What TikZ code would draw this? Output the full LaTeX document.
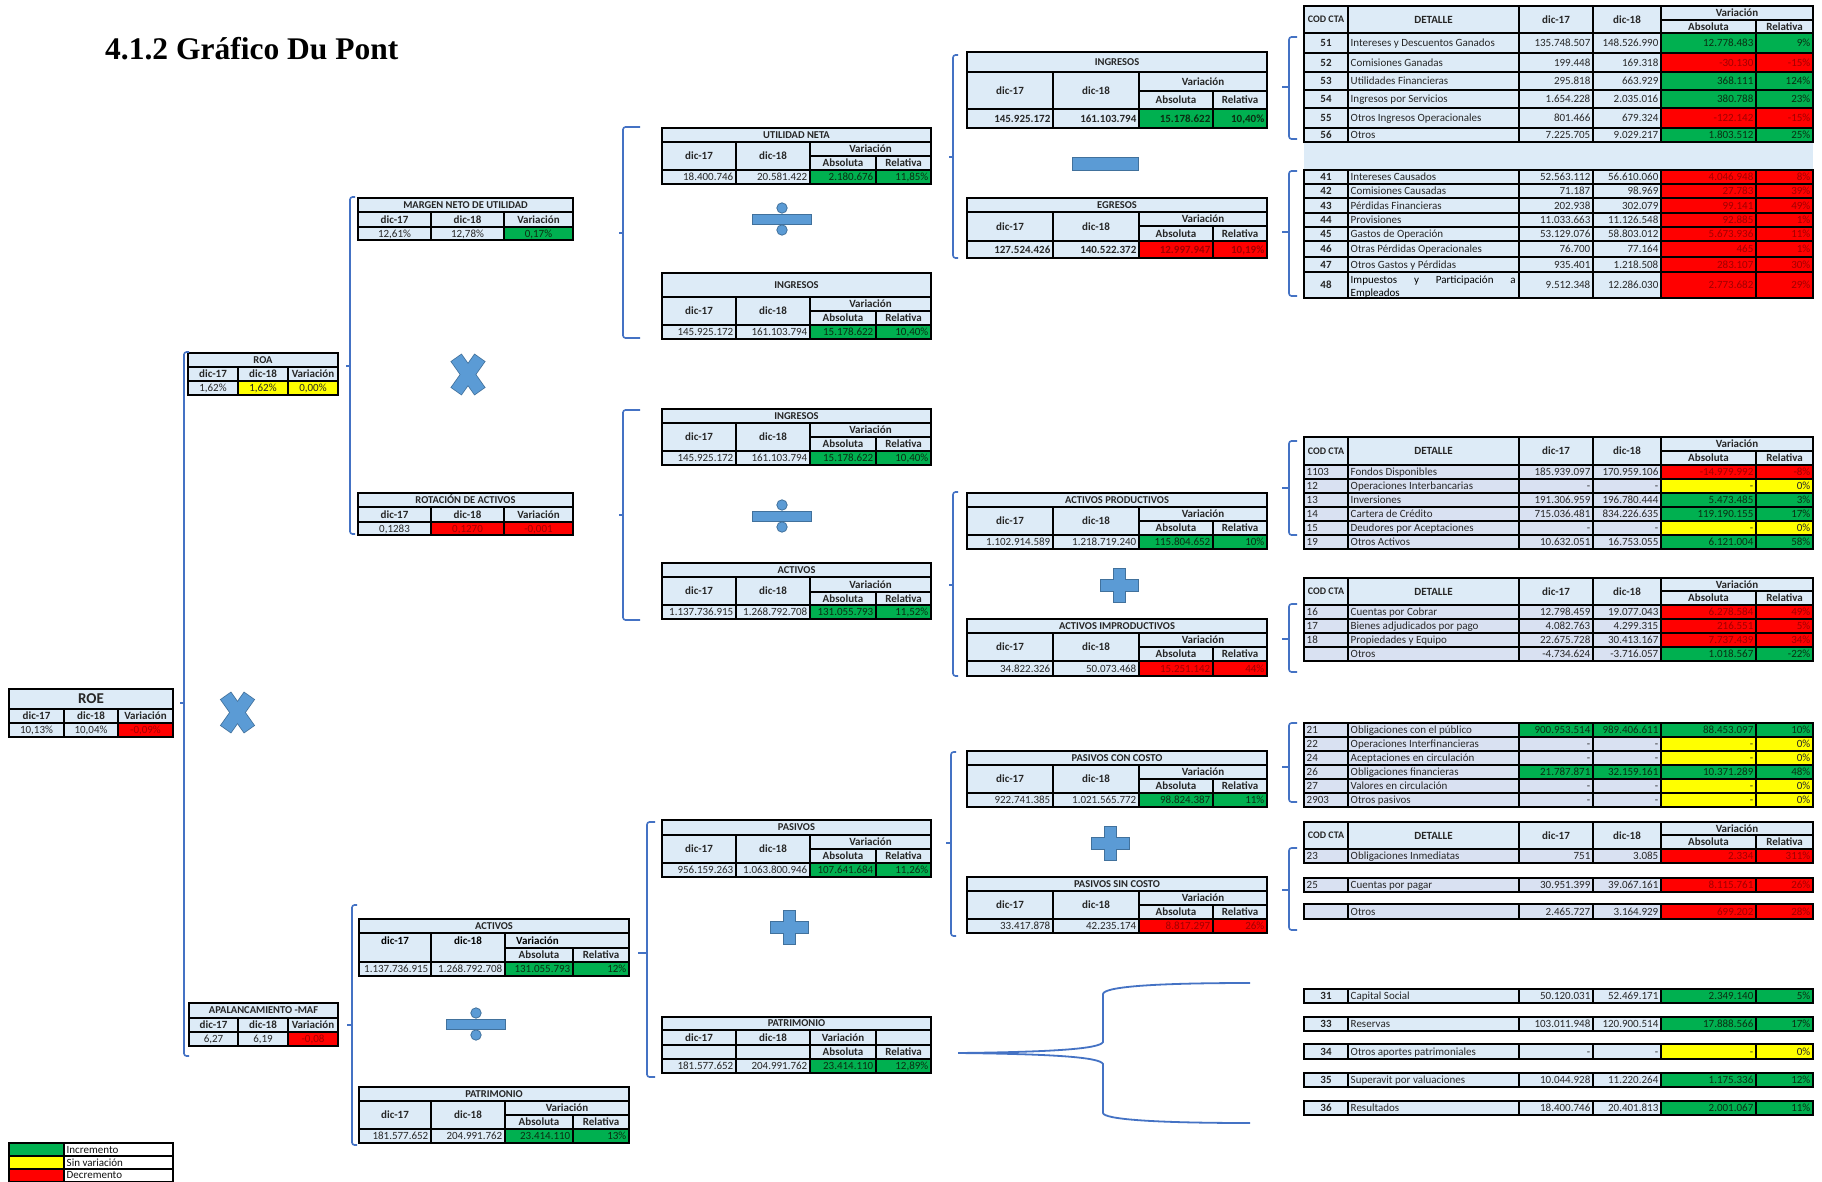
\documentclass[tikz,border=0pt]{standalone}
\usepackage{fontspec}
\setmainfont{Carlito}
\newfontfamily\headfont{Liberation Serif}
\usetikzlibrary{calc}

% cell fills (c?) and the matching text colours (t?)
\definecolor{cb}{HTML}{DDEBF7}
\definecolor{cl}{HTML}{D9E1F2}
\definecolor{cg}{HTML}{00B050}
\definecolor{cy}{HTML}{FFFF00}
\definecolor{cr}{HTML}{FF0000}
\definecolor{cw}{HTML}{FFFFFF}
\definecolor{tb}{HTML}{262626}
\definecolor{tl}{HTML}{262626}
\definecolor{tw}{HTML}{111111}
\definecolor{tg}{HTML}{0B2E12}
\definecolor{ty}{HTML}{262626}
\definecolor{tr}{HTML}{A00000}
\definecolor{brkc}{HTML}{4472C4}
\definecolor{opf}{HTML}{5B9BD5}
\definecolor{opd}{HTML}{41719C}

\newcounter{nd}
\def\FS{11}
\def\gw{1.1pt}

% one table cell: [align]{x1}{y1}{x2}{y2}{colour letter}{text}
\newcommand{\Cell}[7][c]{%
  \filldraw[fill=c#6,draw=black,line width=\gw] (#2,#3) rectangle (#4,#5);
  \stepcounter{nd}%
  \if l#1\node[txt,anchor=west,text=t#6] (n\arabic{nd}) at ({#2+2.5},{(#3+#5)/2}) {#7};\fi
  \if r#1\node[txt,anchor=east,text=t#6] (n\arabic{nd}) at ({#4-2.5},{(#3+#5)/2}) {#7};\fi
  \if c#1\node[txt,text=t#6] (n\arabic{nd}) at ({(#2+#4)/2},{(#3+#5)/2}) {#7};\fi
}

% account detail tables
\def\XA{1304}\def\XB{1348}\def\XC{1519}\def\XD{1593}\def\XE{1661}\def\XF{1756}\def\XG{1813}
\newcommand{\DHead}[3]{%
  {\def\FS{10}\Cell{\XA}{#1}{\XB}{#3}{b}{\bfseries COD CTA}}
  \Cell{\XB}{#1}{\XC}{#3}{b}{\bfseries DETALLE}
  \Cell{\XC}{#1}{\XD}{#3}{b}{\bfseries dic-17}
  \Cell{\XD}{#1}{\XE}{#3}{b}{\bfseries dic-18}
  \Cell{\XE}{#1}{\XG}{#2}{b}{\bfseries Variación}
  \Cell{\XE}{#2}{\XF}{#3}{b}{\bfseries Absoluta}
  \Cell{\XF}{#2}{\XG}{#3}{b}{\bfseries Relativa}}
\newcommand{\DRow}[9]{%
  \if b\CA \Cell{\XA}{#1}{\XB}{#2}{\RB}{\bfseries #3}\else \Cell[l]{\XA}{#1}{\XB}{#2}{\RB}{#3}\fi
  \Cell[l]{\XB}{#1}{\XC}{#2}{\RB}{#4}
  \Cell[r]{\XC}{#1}{\XD}{#2}{\DC}{#5}
  \Cell[r]{\XD}{#1}{\XE}{#2}{\DC}{#6}
  \Cell[r]{\XE}{#1}{\XF}{#2}{#9}{#7}
  \Cell[r]{\XF}{#1}{\XG}{#2}{#9}{#8}}

% two-period tables with absolute and relative variation
\newcommand{\SetCols}[5]{\def\BA{#1}\def\BB{#2}\def\BC{#3}\def\BD{#4}\def\BE{#5}}
\newcommand{\BHead}[6]{%
  {\def\FS{10.5}\Cell{\BA}{#1}{\BE}{#2}{b}{\bfseries #6}}
  \Cell{\BA}{#2}{\BB}{#4}{b}{\bfseries dic-17}
  \Cell{\BB}{#2}{\BC}{#4}{b}{\bfseries dic-18}
  \Cell{\BC}{#2}{\BE}{#3}{b}{\bfseries Variación}
  \Cell{\BC}{#3}{\BD}{#4}{b}{\bfseries Absoluta}
  \Cell{\BD}{#3}{\BE}{#4}{b}{\bfseries Relativa}
  \def\YV{#4}\def\YW{#5}}
\def\vf{}
\newcommand{\BVals}[5]{%
  \Cell[r]{\BA}{\YV}{\BB}{\YW}{b}{\vf #1}
  \Cell[r]{\BB}{\YV}{\BC}{\YW}{b}{\vf #2}
  \Cell[r]{\BC}{\YV}{\BD}{\YW}{#5}{\vf #3}
  \Cell[r]{\BD}{\YV}{\BE}{\YW}{#5}{\vf #4}}

% ratio tables with three columns
\newcommand{\SetC}[4]{\def\KA{#1}\def\KB{#2}\def\KC{#3}\def\KD{#4}}
\newcommand{\CTable}[5]{%
  {\def\FS{10.5}\Cell{\KA}{#1}{\KD}{#2}{b}{\bfseries #5}}
  \Cell{\KA}{#2}{\KB}{#3}{b}{\bfseries dic-17}
  \Cell{\KB}{#2}{\KC}{#3}{b}{\bfseries dic-18}
  \Cell{\KC}{#2}{\KD}{#3}{b}{\bfseries Variación}
  \def\YV{#3}\def\YW{#4}}
\newcommand{\CVals}[6]{%
  \Cell{\KA}{\YV}{\KB}{\YW}{#2}{#1}
  \Cell{\KB}{\YV}{\KC}{\YW}{#4}{#3}
  \Cell{\KC}{\YV}{\KD}{\YW}{#6}{#5}}

% operator signs
\newcommand{\PlusOp}[2]{%
  \filldraw[opshape] (#1-19,#2-6) -- (#1-6,#2-6) -- (#1-6,#2-17) -- (#1+6,#2-17) -- (#1+6,#2-6)
    -- (#1+19,#2-6) -- (#1+19,#2+6) -- (#1+6,#2+6) -- (#1+6,#2+17) -- (#1-6,#2+17)
    -- (#1-6,#2+6) -- (#1-19,#2+6) -- cycle;}
\newcommand{\DivOp}[2]{%
  \filldraw[opshape] (#1-29.5,#2-5) rectangle (#1+29.5,#2+5);
  \filldraw[opshape] (#1,#2-11) circle[radius=5.2pt];
  \filldraw[opshape] (#1,#2+11) circle[radius=5.2pt];}
\newcommand{\TimesOp}[2]{%
  \draw[line width=13.6pt,draw=opd] (#1-12,#2-17) -- (#1+12,#2+17);
  \draw[line width=13.6pt,draw=opd] (#1+12,#2-17) -- (#1-12,#2+17);
  \draw[line width=12pt,draw=opf,shorten <=0.8pt,shorten >=0.8pt] (#1-12,#2-17) -- (#1+12,#2+17);
  \draw[line width=12pt,draw=opf,shorten <=0.8pt,shorten >=0.8pt] (#1+12,#2-17) -- (#1-12,#2+17);}

% bracket: {x}{top}{bottom}{middle}{end tick}{middle tick}
\newcommand{\Brk}[6]{%
  \draw[bracket] (#1+#5,#2) -- (#1,#2) -- (#1,#3) -- (#1+#5,#3);
  \draw[bracket,rounded corners=0pt] (#1,#4) -- (#1-#6,#4);}

\tikzset{
  txt/.style={inner sep=0pt,font=\fontsize{\FS}{\FS}\selectfont,text height={0.64*\FS},text depth=0pt},
  opshape/.style={fill=opf,draw=opd,line width=0.8pt},
  bracket/.style={draw=brkc,line width=1.6pt,rounded corners=2.5pt}
}

\begin{document}
\begin{tikzpicture}[x=1pt,y=-1pt]
\useasboundingbox (0,0) rectangle (1822,1182);
\fill[white] (0,0) rectangle (1822,1182);

\node[anchor=base west,inner sep=0pt,font=\headfont\bfseries\fontsize{31.5}{36}\selectfont] (title) at (105,60) {4.1.2 Gráfico Du Pont};

% ---------------- ratios ----------------
\SetC{9}{64}{118}{173}
{\def\FS{15}\Cell{9}{689}{173}{709}{b}{\bfseries ROE}}
\Cell{9}{709}{64}{723}{b}{\bfseries dic-17}
\Cell{64}{709}{118}{723}{b}{\bfseries dic-18}
\Cell{118}{709}{173}{723}{b}{\bfseries Variación}
\def\YV{723}\def\YW{737}
\CVals{10,13\%}{b}{10,04\%}{b}{-0,09\%}{r}

\SetC{188}{238}{288}{338}
\CTable{353}{367}{381}{395}{ROA}
\CVals{1,62\%}{b}{1,62\%}{y}{0,00\%}{y}

\SetC{189}{238}{288}{338}
\CTable{1003}{1018}{1032}{1046}{APALANCAMIENTO -MAF}
\CVals{6,27}{b}{6,19}{b}{-0,08}{r}

\SetC{358}{431}{504}{573}
\CTable{198}{212}{227}{240}{MARGEN NETO DE UTILIDAD}
\CVals{12,61\%}{b}{12,78\%}{b}{0,17\%}{g}
\CTable{493}{507}{522}{535}{ROTACIÓN DE ACTIVOS}
\CVals{0,1283}{b}{0,1270}{r}{-0,001}{r}

% ---------------- leverage factors ----------------
\SetCols{359}{431}{505}{573}{629}
{\def\FS{10.5}\Cell{359}{919}{629}{933}{b}{\bfseries ACTIVOS}}
\Cell{359}{933}{431}{962}{b}{}
\node[txt] (la17) at (395,940.5) {\bfseries dic-17};
\Cell{431}{933}{505}{962}{b}{}
\node[txt] (la18) at (468,940.5) {\bfseries dic-18};
\Cell{505}{933}{629}{948}{b}{}
\node[txt,anchor=west] (lavar) at (516,940.5) {\bfseries Variación};
\Cell{505}{948}{573}{962}{b}{\bfseries Absoluta}
\Cell{573}{948}{629}{962}{b}{\bfseries Relativa}
\def\YV{962}\def\YW{976}
\BVals{1.137.736.915}{1.268.792.708}{131.055.793}{12\%}{g}

\BHead{1087}{1101}{1115}{1129}{1143}{PATRIMONIO}
\BVals{181.577.652}{204.991.762}{23.414.110}{13\%}{g}

% ---------------- third level ----------------
\SetCols{662}{736}{810}{876}{931}
\BHead{128}{142}{156}{170}{184}{UTILIDAD NETA}
\BVals{18.400.746}{20.581.422}{2.180.676}{11,85\%}{g}
\BHead{273}{297}{311}{325}{339}{INGRESOS}
\BVals{145.925.172}{161.103.794}{15.178.622}{10,40\%}{g}
\BHead{409}{423}{437}{451}{465}{INGRESOS}
\BVals{145.925.172}{161.103.794}{15.178.622}{10,40\%}{g}
\BHead{563}{577}{592}{605}{619}{ACTIVOS}
\BVals{1.137.736.915}{1.268.792.708}{131.055.793}{11,52\%}{g}
\BHead{820}{835}{849}{863}{877}{PASIVOS}
\BVals{956.159.263}{1.063.800.946}{107.641.684}{11,26\%}{g}

{\def\FS{10.5}\Cell{662}{1017}{931}{1030}{b}{\bfseries PATRIMONIO}}
\Cell{662}{1030}{736}{1045}{b}{\bfseries dic-17}
\Cell{736}{1030}{810}{1045}{b}{\bfseries dic-18}
\Cell{810}{1030}{876}{1045}{b}{\bfseries Variación}
\Cell{876}{1030}{931}{1045}{b}{}
\Cell{662}{1045}{736}{1059}{b}{}
\Cell{736}{1045}{810}{1059}{b}{}
\Cell{810}{1045}{876}{1059}{b}{\bfseries Absoluta}
\Cell{876}{1045}{931}{1059}{b}{\bfseries Relativa}
\def\YV{1059}\def\YW{1073}
\BVals{181.577.652}{204.991.762}{23.414.110}{12,89\%}{g}

% ---------------- fourth level ----------------
\SetCols{967}{1053}{1139}{1213}{1267}
\def\vf{\bfseries}
\BHead{52}{72}{91}{109}{128}{INGRESOS}
\BVals{145.925.172}{161.103.794}{15.178.622}{10,40\%}{g}
\BHead{198}{212}{226}{241}{258}{EGRESOS}
\BVals{127.524.426}{140.522.372}{12.997.947}{10,19\%}{r}
\def\vf{}
\BHead{493}{507}{521}{535}{549}{ACTIVOS PRODUCTIVOS}
\BVals{1.102.914.589}{1.218.719.240}{115.804.652}{10\%}{g}
\BHead{619}{633}{647}{661}{676}{ACTIVOS IMPRODUCTIVOS}
\BVals{34.822.326}{50.073.468}{15.251.142}{44\%}{r}
\BHead{751}{765}{779}{793}{807}{PASIVOS CON COSTO}
\BVals{922.741.385}{1.021.565.772}{98.824.387}{11\%}{g}
\BHead{877}{891}{905}{919}{933}{PASIVOS SIN COSTO}
\BVals{33.417.878}{42.235.174}{8.817.297}{26\%}{r}

% ---------------- account detail ----------------
\def\RB{b}\def\DC{b}\def\CA{b}
\DHead{6}{20}{33}
\DRow{33}{53}{51}{Intereses y Descuentos Ganados}{135.748.507}{148.526.990}{12.778.483}{9\%}{g}
\DRow{53}{72}{52}{Comisiones Ganadas}{199.448}{169.318}{-30.130}{-15\%}{r}
\DRow{72}{90}{53}{Utilidades Financieras}{295.818}{663.929}{368.111}{124\%}{g}
\DRow{90}{108}{54}{Ingresos por Servicios}{1.654.228}{2.035.016}{380.788}{23\%}{g}
\DRow{108}{128}{55}{Otros Ingresos Operacionales}{801.466}{679.324}{-122.142}{-15\%}{r}
\DRow{128}{142}{56}{Otros}{7.225.705}{9.029.217}{1.803.512}{25\%}{g}
\fill[cb] (1304,142.6) rectangle (1813,169.4);

\DRow{170}{184}{41}{Intereses Causados}{52.563.112}{56.610.060}{4.046.948}{8\%}{r}
\DRow{184}{198}{42}{Comisiones Causadas}{71.187}{98.969}{27.783}{39\%}{r}
\DRow{198}{213}{43}{Pérdidas Financieras}{202.938}{302.079}{99.141}{49\%}{r}
\DRow{213}{227}{44}{Provisiones}{11.033.663}{11.126.548}{92.885}{1\%}{r}
\DRow{227}{241}{45}{Gastos de Operación}{53.129.076}{58.803.012}{5.673.936}{11\%}{r}
\DRow{241}{257}{46}{Otras Pérdidas Operacionales}{76.700}{77.164}{465}{1\%}{r}
\DRow{257}{272}{47}{Otros Gastos y Pérdidas}{935.401}{1.218.508}{283.107}{30\%}{r}
\DRow{272}{298}{48}{}{9.512.348}{12.286.030}{2.773.682}{29\%}{r}
\node[txt,anchor=west] (imp1) at (1350.5,279.5) {\makebox[165pt][s]{Impuestos y Participación a}};
\node[txt,anchor=west] (imp2) at (1350.5,293) {Empleados};

\def\RB{l}\def\DC{l}\def\CA{l}
\DHead{437}{451}{465}
\DRow{465}{479}{1103}{Fondos Disponibles}{185.939.097}{170.959.106}{-14.979.992}{-8\%}{r}
\DRow{479}{493}{12}{Operaciones Interbancarias}{-}{-}{-}{0\%}{y}
\DRow{493}{507}{13}{Inversiones}{191.306.959}{196.780.444}{5.473.485}{3\%}{g}
\DRow{507}{521}{14}{Cartera de Crédito}{715.036.481}{834.226.635}{119.190.155}{17\%}{g}
\DRow{521}{535}{15}{Deudores por Aceptaciones}{-}{-}{-}{0\%}{y}
\DRow{535}{549}{19}{Otros Activos}{10.632.051}{16.753.055}{6.121.004}{58\%}{g}

\DHead{578}{591}{605}
\DRow{605}{619}{16}{Cuentas por Cobrar}{12.798.459}{19.077.043}{6.278.584}{49\%}{r}
\DRow{619}{633}{17}{Bienes adjudicados por pago}{4.082.763}{4.299.315}{216.551}{5\%}{r}
\DRow{633}{647}{18}{Propiedades y Equipo}{22.675.728}{30.413.167}{7.737.439}{34\%}{r}
\DRow{647}{661}{}{Otros}{-4.734.624}{-3.716.057}{1.018.567}{-22\%}{g}

\def\DC{g}
\DRow{723}{737}{21}{Obligaciones con el público}{900.953.514}{989.406.611}{88.453.097}{10\%}{g}
\def\DC{l}
\DRow{737}{751}{22}{Operaciones Interfinancieras}{-}{-}{-}{0\%}{y}
\DRow{751}{765}{24}{Aceptaciones en circulación}{-}{-}{-}{0\%}{y}
\def\DC{g}
\DRow{765}{779}{26}{Obligaciones financieras}{21.787.871}{32.159.161}{10.371.289}{48\%}{g}
\def\DC{l}
\DRow{779}{793}{27}{Valores en circulación}{-}{-}{-}{0\%}{y}
\DRow{793}{807}{2903}{Otros pasivos}{-}{-}{-}{0\%}{y}

\DHead{822}{835}{849}
\DRow{849}{863}{23}{Obligaciones Inmediatas}{751}{3.085}{2.334}{311\%}{r}
\DRow{878}{892}{25}{Cuentas por pagar}{30.951.399}{39.067.161}{8.115.761}{26\%}{r}
\DRow{904}{919}{}{Otros}{2.465.727}{3.164.929}{699.202}{28\%}{r}

\def\RB{b}\def\DC{b}\def\CA{b}
\DRow{989}{1003}{31}{Capital Social}{50.120.031}{52.469.171}{2.349.140}{5\%}{g}
\DRow{1017}{1031}{33}{Reservas}{103.011.948}{120.900.514}{17.888.566}{17\%}{g}
\DRow{1044}{1059}{34}{Otros aportes patrimoniales}{-}{-}{-}{0\%}{y}
\DRow{1073}{1087}{35}{Superavit por valuaciones}{10.044.928}{11.220.264}{1.175.336}{12\%}{g}
\DRow{1101}{1115}{36}{Resultados}{18.400.746}{20.401.813}{2.001.067}{11\%}{g}

% ---------------- legend ----------------
\Cell{9}{1143}{64}{1156}{g}{}
\Cell[l]{64}{1143}{173}{1156}{w}{Incremento}
\Cell{9}{1156}{64}{1169}{y}{}
\Cell[l]{64}{1156}{173}{1169}{w}{Sin variación}
\Cell{9}{1169}{64}{1181.4}{r}{}
\Cell[l]{64}{1169}{173}{1181.4}{w}{Decremento}

% ---------------- operators ----------------
\TimesOp{237.5}{712.5}
\TimesOp{468}{374.5}
\DivOp{782}{219}
\DivOp{782}{516}
\DivOp{476}{1024}
\filldraw[opshape] (1072,157) rectangle (1138,170);
\PlusOp{1119}{585}
\PlusOp{1110}{843}
\PlusOp{789}{927}

% ---------------- brackets ----------------
\Brk{184}{352}{1056}{703}{5}{4}
\Brk{350}{197}{534}{366}{5}{4}
\Brk{352}{905}{1145}{1025}{5}{5}
\Brk{623}{127}{338}{233}{17}{4}
\Brk{623}{410}{620}{515}{17}{4}
\Brk{647}{822}{1077}{953}{8}{9}
\Brk{953}{55}{258}{157}{5}{4}
\Brk{953}{492}{676}{585}{5}{4}
\Brk{951}{752}{936}{843}{5}{5}
\Brk{1289}{37}{139}{87}{8}{7}
\Brk{1289}{171}{296}{232}{8}{7}
\Brk{1289}{441}{535}{488}{8}{7}
\Brk{1289}{604}{672}{639}{8}{7}
\Brk{1289}{723}{802}{767}{8}{7}
\Brk{1289}{848}{930}{890}{8}{7}

\coordinate (bl) at (958,1053);
\draw[bracket,rounded corners=0pt,line width=1.8pt]
  (bl) .. controls (1050,1052) and (1100,1049) .. (1103,1042) -- (1103,994)
  .. controls (1104,987) and (1150,983) .. (1250,983);
\draw[bracket,rounded corners=0pt,line width=1.8pt]
  (bl) .. controls (1050,1054) and (1100,1057) .. (1103,1064) -- (1103,1113)
  .. controls (1104,1119) and (1150,1123) .. (1250,1123);
\end{tikzpicture}
\end{document}
